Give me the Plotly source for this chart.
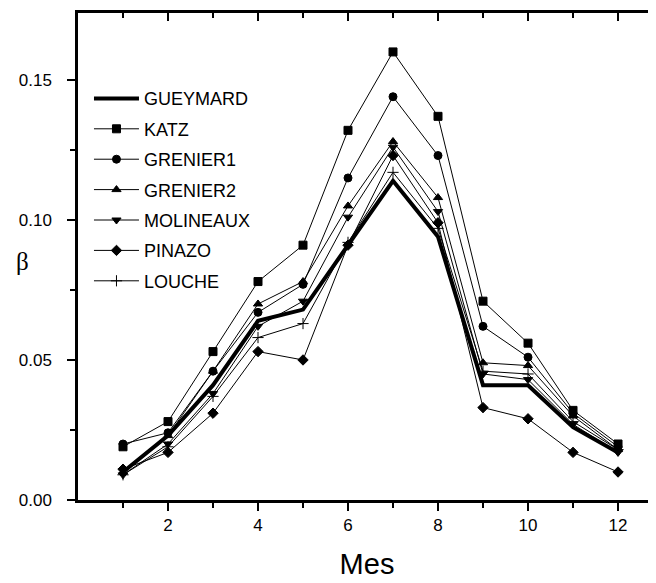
import plotly.graph_objects as go

months = [1, 2, 3, 4, 5, 6, 7, 8, 9, 10, 11, 12]
gueymard = [0.010, 0.023, 0.041, 0.064, 0.068, 0.091, 0.114, 0.094, 0.041, 0.041, 0.026, 0.017]
katz = [0.019, 0.028, 0.053, 0.078, 0.091, 0.132, 0.160, 0.137, 0.071, 0.056, 0.032, 0.020]
grenier1 = [0.020, 0.024, 0.046, 0.067, 0.077, 0.115, 0.144, 0.123, 0.062, 0.051, 0.031, 0.019]
grenier2 = [0.010, 0.023, 0.046, 0.070, 0.078, 0.105, 0.128, 0.108, 0.049, 0.048, 0.030, 0.018]
molineaux = [0.009, 0.020, 0.038, 0.062, 0.071, 0.101, 0.126, 0.103, 0.045, 0.043, 0.027, 0.017]
pinazo = [0.011, 0.017, 0.031, 0.053, 0.050, 0.091, 0.123, 0.099, 0.033, 0.029, 0.017, 0.010]
louche = [0.009, 0.019, 0.037, 0.058, 0.063, 0.092, 0.117, 0.097, 0.046, 0.045, 0.028, 0.018]

x_major = [2, 4, 6, 8, 10, 12]
x_minor = [1, 3, 5, 7, 9, 11]
y_major = [0.0, 0.05, 0.10, 0.15]
y_major_text = ["0.00", "0.05", "0.10", "0.15"]
y_minor = [0.025, 0.075, 0.125]

series = [
    ("GUEYMARD", gueymard, None),
    ("KATZ", katz, "square"),
    ("GRENIER1", grenier1, "circle"),
    ("GRENIER2", grenier2, "triangle-up"),
    ("MOLINEAUX", molineaux, "triangle-down"),
    ("PINAZO", pinazo, "diamond"),
    ("LOUCHE", louche, "cross-thin-open"),
]

fig = go.Figure()
for name, vals, sym in series:
    if sym is None:
        fig.add_trace(go.Scatter(x=months, y=vals, name=name, mode="lines",
                                 line=dict(color="black", width=4),
                                 legendgroup=name))
    else:
        fig.add_trace(go.Scatter(x=months, y=vals, name=name, mode="lines+markers",
                                 line=dict(color="black", width=1),
                                 marker=dict(symbol=sym, size=8, color="black",
                                             line=dict(color="black", width=1)),
                                 legendgroup=name))

# companion traces (invisible) so the top and right tick axes are drawn
fig.add_trace(go.Scatter(x=months, y=gueymard, xaxis="x2", yaxis="y", mode="markers",
                         marker=dict(size=1, color="rgba(0,0,0,0)"), showlegend=False,
                         hoverinfo="skip"))
fig.add_trace(go.Scatter(x=months, y=gueymard, xaxis="x", yaxis="y2", mode="markers",
                         marker=dict(size=1, color="rgba(0,0,0,0)"), showlegend=False,
                         hoverinfo="skip"))

font = "Liberation Sans, Arial, sans-serif"
xr = [0, 12.844]
yr = [0, 0.1739]

# page body has an 8px margin, so the figure is 648x575 and sits at (8,8)
fig.update_layout(
    width=648, height=575,
    margin=dict(l=70, r=0, t=5, b=83),
    paper_bgcolor="white", plot_bgcolor="white",
    font=dict(family=font, color="black", size=17),
    showlegend=True,
    legend=dict(x=0.019, y=0.862, xanchor="left", yanchor="top",
                bgcolor="rgba(0,0,0,0)", font=dict(size=18, family=font),
                tracegroupgap=4, traceorder="grouped", itemwidth=45),
    xaxis=dict(range=xr, showgrid=False, zeroline=False, showline=True, mirror=True,
               linecolor="black", linewidth=2.5, ticks="outside", ticklen=8,
               tickwidth=2, tickcolor="black", tickvals=x_major,
               minor=dict(tickvals=x_minor, ticks="outside", ticklen=5,
                          tickwidth=2, tickcolor="black"),
               tickfont=dict(size=17, family=font),
               title=dict(text="Mes", font=dict(size=29, family=font), standoff=20)),
    xaxis2=dict(range=xr, overlaying="x", side="top", anchor="y",
                showgrid=False, zeroline=False, showline=True, linecolor="black",
                linewidth=2.5, ticks="inside", ticklen=8, tickwidth=2,
                tickcolor="black", tickvals=x_major,
                minor=dict(tickvals=x_minor, ticks="inside", ticklen=5,
                           tickwidth=2, tickcolor="black"),
                showticklabels=False),
    yaxis=dict(range=yr, showgrid=False, zeroline=False, showline=True,
               linecolor="black", linewidth=2.5, ticks="outside", ticklen=8,
               tickwidth=2, tickcolor="black",
               tickvals=y_major, ticktext=y_major_text, ticklabelstandoff=12,
               minor=dict(tickvals=y_minor, ticks="outside", ticklen=5,
                          tickwidth=2, tickcolor="black"),
               tickfont=dict(size=17, family=font)),
    yaxis2=dict(range=yr, overlaying="y", side="right", anchor="x",
                showgrid=False, zeroline=False, showline=False,
                ticks="inside", ticklen=8, tickwidth=2, tickcolor="black",
                tickvals=y_major, showticklabels=False),
)

fig.add_annotation(text="β", xref="paper", yref="paper", x=-0.096, y=0.49,
                   xanchor="center", yanchor="middle", showarrow=False,
                   font=dict(size=25, family="Liberation Serif, Times New Roman, serif"))

fig.write_html("out.html")
